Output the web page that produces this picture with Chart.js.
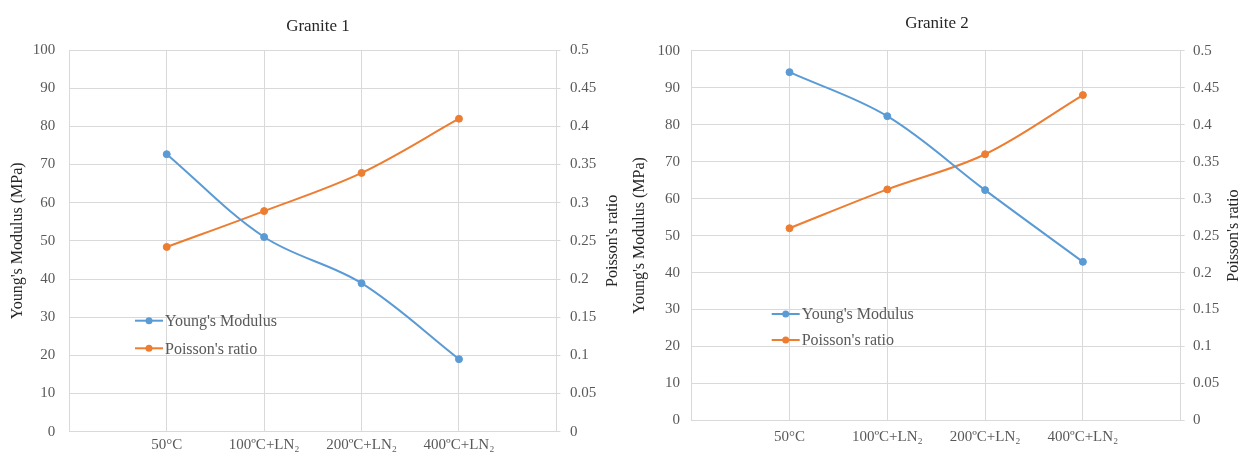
<!DOCTYPE html>
<html>
<head>
<meta charset="utf-8">
<title>Granite elastic properties</title>
<script src="https://cdn.jsdelivr.net/npm/chart.js@4.4.1/dist/chart.umd.min.js"></script>
<style>
  html, body { margin: 0; padding: 0; background: #ffffff; }
  #wrap { position: relative; width: 1249px; height: 455px; overflow: hidden; background: #ffffff; }
  canvas { position: absolute; top: 0; }
  #g1 { left: 0; }
  #g2 { left: 625px; }
</style>
</head>
<body>
<div id="wrap">
  <canvas id="g1" width="636" height="455"></canvas>
  <canvas id="g2" width="624" height="455"></canvas>
</div>
<script>
// Treatment conditions (x axis)
const categories = ["50°C", "100ºC+LN₂", "200ºC+LN₂", "400ºC+LN₂"];

// Granite 1
const granite1Young = [72.7, 51.0, 38.9, 19.0];       // MPa
const granite1Poisson = [0.242, 0.289, 0.339, 0.41];

// Granite 2
const granite2Young = [94.2, 82.3, 62.3, 42.9];       // MPa
const granite2Poisson = [0.26, 0.3125, 0.36, 0.44];

// Axis ranges and steps
const youngAxis = { min: 0, max: 100, step: 10 };
const poissonAxis = { min: 0, max: 0.5, step: 0.05 };

const seriesNames = ["Young's Modulus", "Poisson's ratio"];
const BLUE = '#5b9bd5';
const ORANGE = '#ed7d31';
const GRID = '#d9d9d9';
const TICK = '#595959';
const DARK = '#262626';
const SERIF = '"Liberation Serif", "Times New Roman", Times, serif';

// One empty slot on each side so the four conditions sit on interior grid lines
const axisLabels = [''].concat(categories, ['']);
const pad = arr => [null].concat(arr, [null]);

// Secondary-axis title, written bottom-to-top like the primary one
const rightTitlePlugin = {
  id: 'rightTitle',
  afterDraw(chart, args, opts) {
    const { ctx, chartArea } = chart;
    ctx.save();
    ctx.fillStyle = opts.color;
    ctx.font = opts.font;
    ctx.textAlign = 'center';
    ctx.textBaseline = 'middle';
    ctx.translate(opts.x, (chartArea.top + chartArea.bottom) / 2);
    ctx.rotate(-Math.PI / 2);
    ctx.fillText(opts.text, 0, 0);
    ctx.restore();
  }
};

// Legend drawn inside the plot area
const innerLegendPlugin = {
  id: 'innerLegend',
  afterDatasetsDraw(chart, args, opts) {
    const { ctx } = chart;
    ctx.save();
    ctx.font = opts.font;
    ctx.textAlign = 'left';
    ctx.textBaseline = 'middle';
    chart.data.datasets.forEach((ds, i) => {
      const y = opts.y + i * opts.rowGap;
      const x = opts.x;
      ctx.strokeStyle = ds.borderColor;
      ctx.lineWidth = ds.borderWidth;
      ctx.beginPath();
      ctx.moveTo(x, y);
      ctx.lineTo(x + opts.lineLength, y);
      ctx.stroke();
      ctx.fillStyle = ds.borderColor;
      ctx.beginPath();
      ctx.arc(x + opts.lineLength / 2, y, ds.pointRadius, 0, Math.PI * 2);
      ctx.fill();
      ctx.fillStyle = opts.color;
      ctx.fillText(ds.label, x + opts.lineLength + 2, y + 1);
    });
    ctx.restore();
  }
};

function makeChart(id, cfg) {
  const dataset = (label, values, color, axis) => ({
    label,
    data: pad(values),
    yAxisID: axis,
    borderColor: color,
    backgroundColor: color,
    borderWidth: 2,
    pointRadius: 3.5,
    pointBorderWidth: 1,
    pointBackgroundColor: color,
    pointBorderColor: color,
    tension: 0.35,
    fill: false
  });

  return new Chart(document.getElementById(id), {
    type: 'line',
    data: {
      labels: axisLabels,
      datasets: [
        dataset(seriesNames[0], cfg.young, BLUE, 'y'),
        dataset(seriesNames[1], cfg.poisson, ORANGE, 'y1')
      ]
    },
    options: {
      responsive: false,
      animation: false,
      events: [],
      layout: { padding: 0 },
      plugins: {
        legend: { display: false },
        tooltip: { enabled: false },
        title: {
          display: true,
          text: cfg.title,
          color: DARK,
          font: { family: SERIF, size: 17, weight: 'normal' },
          padding: { top: cfg.titleTop, bottom: cfg.titleBottom }
        },
        rightTitle: {
          text: seriesNames[1],
          x: cfg.rightTitleX,
          color: DARK,
          font: '16px ' + SERIF
        },
        innerLegend: {
          x: cfg.legendX,
          y: cfg.legendY,
          rowGap: cfg.legendGap,
          lineLength: 28,
          color: TICK,
          font: '16px ' + SERIF
        }
      },
      scales: {
        x: {
          type: 'category',
          offset: false,
          grid: { color: GRID, lineWidth: 1, drawTicks: false },
          border: { color: GRID, width: 1 },
          ticks: {
            color: TICK,
            font: { family: SERIF, size: 15 },
            padding: cfg.xPad,
            maxRotation: 0,
            autoSkip: false
          },
          afterFit: s => { s.height = cfg.xHeight; }
        },
        y: {
          position: 'left',
          min: youngAxis.min,
          max: youngAxis.max,
          grid: { color: GRID, lineWidth: 1, drawTicks: false },
          border: { color: GRID, width: 1 },
          ticks: {
            stepSize: youngAxis.step,
            color: TICK,
            font: { family: SERIF, size: 15 },
            padding: cfg.yPad
          },
          title: {
            display: true,
            text: "Young's Modulus (MPa)",
            color: DARK,
            font: { family: SERIF, size: 16 },
            padding: { top: cfg.yTitlePad, bottom: 0 }
          },
          afterFit: s => { s.width = cfg.yWidth; }
        },
        y1: {
          position: 'right',
          min: poissonAxis.min,
          max: poissonAxis.max,
          grid: { drawOnChartArea: false, drawTicks: true, tickLength: 4, color: GRID },
          border: { color: GRID, width: 1 },
          ticks: {
            stepSize: poissonAxis.step,
            color: TICK,
            font: { family: SERIF, size: 15 },
            padding: cfg.y1Pad,
            callback: v => String(Number(v.toFixed(2)))
          },
          afterFit: s => { s.width = cfg.y1Width; }
        }
      }
    },
    plugins: [rightTitlePlugin, innerLegendPlugin]
  });
}

makeChart('g1', {
  title: 'Granite 1',
  young: granite1Young,
  poisson: granite1Poisson,
  titleTop: 16.8, titleBottom: 12.8,
  yWidth: 69.3, y1Width: 79.6, xHeight: 23.3,
  yPad: 14, y1Pad: 9.6, xPad: 4, yTitlePad: 8.4,
  rightTitleX: 613,
  legendX: 135, legendY: 320.7, legendGap: 27.6
});

makeChart('g2', {
  title: 'Granite 2',
  young: granite2Young,
  poisson: granite2Poisson,
  titleTop: 13.8, titleBottom: 16.5,
  yWidth: 66.7, y1Width: 68.3, xHeight: 34.5,
  yPad: 11.7, y1Pad: 8.3, xPad: 8, yTitlePad: 5.4,
  rightTitleX: 609,
  legendX: 146.7, legendY: 314, legendGap: 26
});
</script>
</body>
</html>
